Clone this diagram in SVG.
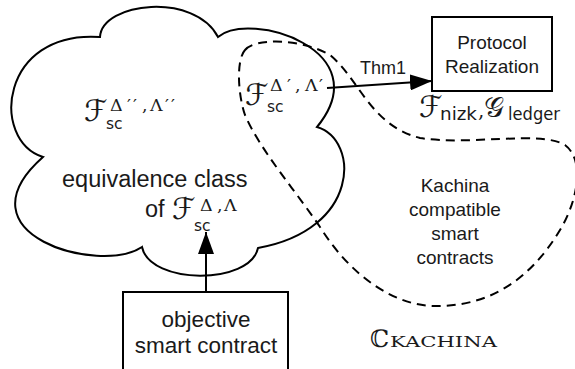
<svg xmlns="http://www.w3.org/2000/svg" width="575" height="369" viewBox="0 0 575 369">
<defs>
<style>
.line{fill:none;stroke:#000;stroke-width:2}
.dash{fill:none;stroke:#000;stroke-width:2;stroke-dasharray:9 6}
.box{fill:#fff;stroke:#000;stroke-width:2}
.t{font-family:"Liberation Sans",Arial,sans-serif;fill:#1a1a1a}
.m{font-family:"DejaVu Serif","DejaVu Sans",serif;fill:#1a1a1a}
.s{font-family:"DejaVu Sans","Liberation Sans",sans-serif}
.F{font-size:30px}
.sub{font-size:15.5px}
.sup{font-size:17.5px}
</style>
<marker id="ah" viewBox="0 0 22 16" refX="22" refY="8" markerWidth="22" markerHeight="16" markerUnits="userSpaceOnUse" orient="auto">
<path d="M0,0 L22,8 L0,16 Z" fill="#000"/>
</marker>
</defs>
<rect width="575" height="369" fill="#fff"/>
<g id="cloud">
<path class="line" d="M100,37 C102,2 195,-8 218,37 C250,10 380,50 317,127 C360,140 360,230 258,248 C250,285 150,285 142,247 C100,275 -45,235 43,157 C-10,140 0,30 100,37 Z"/>
<text class="m"><tspan class="F" x="84" y="121">ℱ</tspan><tspan class="s sub" x="106" y="129">sc</tspan><tspan class="sup" x="110 127 133 142 150 165 171" y="111">Δ′′,Λ′′</tspan></text>
<text class="t" x="62" y="187" font-size="23.5">equivalence class</text>
<text class="t"><tspan x="145" y="217" font-size="23.5">of</tspan><tspan class="m F" x="172" y="219">ℱ</tspan><tspan class="s sub" x="194" y="231">sc</tspan><tspan class="m sup" x="200 217 224" y="211">Δ,Λ</tspan></text>
</g>
<g id="kachina">
<path class="dash" d="M245,50 C255,38 300,38 330,55 C360,80 370,125 420,138 C470,146 540,130 565,145 C585,160 578,200 560,230 C530,280 490,305 440,306 C395,308 350,275 320,227 C295,190 260,150 245,115 C238,95 236,60 245,50 Z"/>
<text class="t" font-size="19" text-anchor="middle"><tspan x="455" y="192">Kachina</tspan><tspan x="455" y="216">compatible</tspan><tspan x="455" y="240">smart</tspan><tspan x="455" y="264">contracts</tspan></text>
<text class="m"><tspan class="F" x="245" y="105">ℱ</tspan><tspan class="s sub" x="267" y="112">sc</tspan><tspan class="sup" x="270 287 295 305 319" y="91">Δ′,Λ′</tspan></text>
<text class="m"><tspan x="370" y="347" font-size="24">ℂ</tspan><tspan x="390" y="347" font-size="15" textLength="107" lengthAdjust="spacingAndGlyphs">KACHINA</tspan></text>
</g>
<g id="protocol">
<rect class="box" x="432" y="17" width="120" height="74"/>
<text class="t" font-size="19" text-anchor="middle"><tspan x="492" y="49">Protocol</tspan><tspan x="492" y="73">Realization</tspan></text>
<text class="m"><tspan class="F" x="419" y="117">ℱ</tspan><tspan class="s" x="440" y="120" font-size="17" textLength="37" lengthAdjust="spacingAndGlyphs">nizk</tspan><tspan x="478" y="117" font-size="20">,</tspan><tspan x="484" y="117" font-size="28">𝒢</tspan><tspan class="s" x="508" y="120" font-size="17" textLength="52" lengthAdjust="spacingAndGlyphs">ledger</tspan></text>
</g>
<g id="objective">
<rect class="box" x="123" y="292" width="165" height="90"/>
<text class="t" font-size="22.5" text-anchor="middle"><tspan x="206" y="327">objective</tspan><tspan x="206" y="353">smart contract</tspan></text>
</g>
<g id="connectors">
<path class="line" d="M327,88 L432,81" marker-end="url(#ah)"/>
<text class="t" x="360" y="74" font-size="18">Thm1</text>
<path class="line" d="M206,292 L206,232" marker-end="url(#ah)"/>
</g>
</svg>
